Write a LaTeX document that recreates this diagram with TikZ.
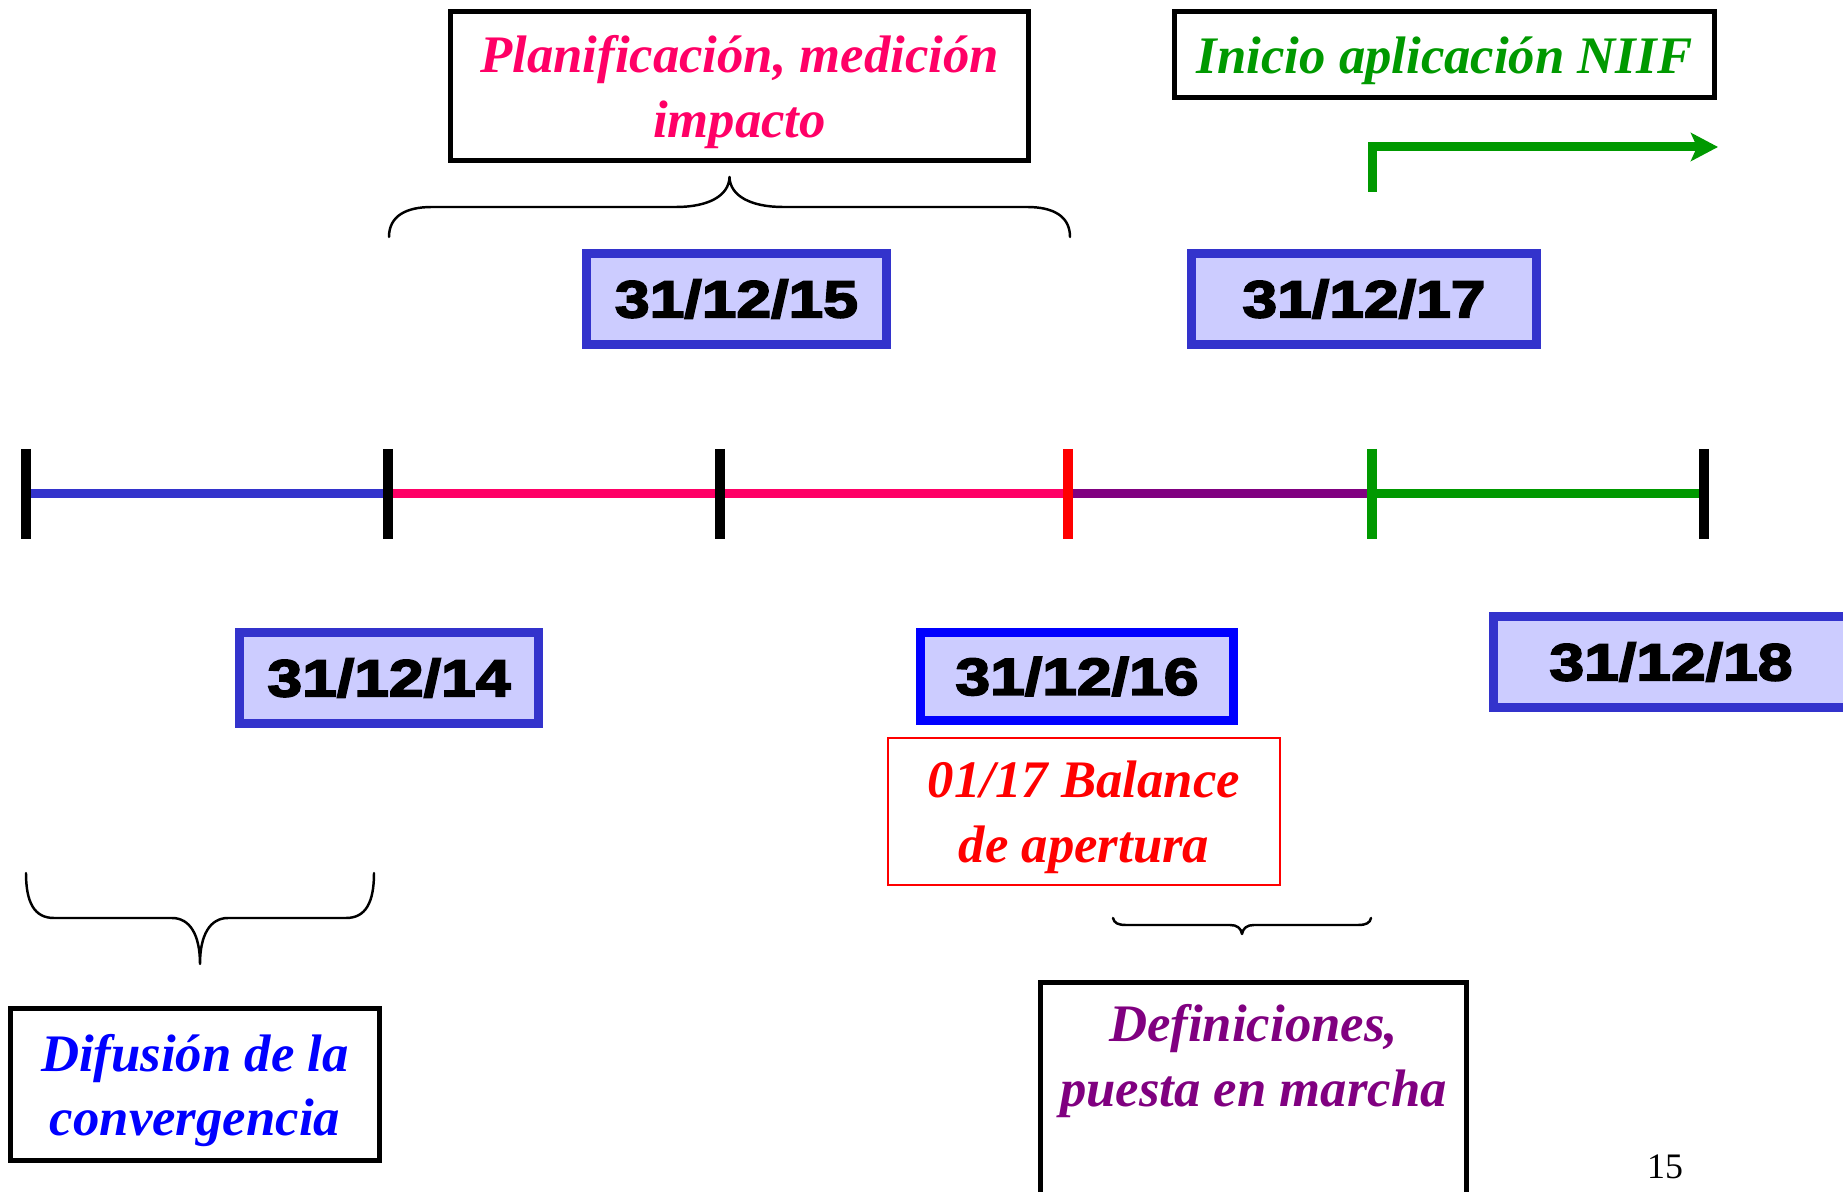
\documentclass[tikz,border=0pt]{standalone}
\usepackage{fontspec}
\setmainfont{Liberation Serif}
\newfontfamily\datefont{Liberation Sans}[BoldFeatures={FakeBold=3.5},FakeStretch=1.2]
\usetikzlibrary{arrows.meta}
\definecolor{datefill}{HTML}{CCCCFF}
\definecolor{dateborder}{HTML}{3333CC}
\definecolor{pinkc}{HTML}{FF0066}
\definecolor{greenc}{HTML}{009900}
\definecolor{purplec}{HTML}{800080}
\definecolor{bluec}{HTML}{0000FF}
\definecolor{redc}{HTML}{FF0000}
\tikzset{
  datebox/.style={draw=dateborder, fill=datefill, line width=0.09cm, inner sep=0pt,
    font=\datefont\bfseries\fontsize{14.8}{18}\selectfont},
  textbox/.style={draw=black, fill=white, line width=0.05cm, inner sep=0pt},
  boxtext/.style={inner sep=0pt, align=center, yshift=-0.06cm,
    font=\bfseries\itshape\fontsize{15}{18.35}\selectfont},
  seg/.style={line width=0.09cm},
  tickmark/.style={line width=0.1cm},
  bracepath/.style={line width=0.7pt, black, line join=round, line cap=round},
}
\begin{document}
\begin{tikzpicture}[x=0.01cm, y=-0.01cm]
\useasboundingbox (0,0) rectangle (1843,1192);
\clip (0,0) rectangle (1843,1192);

% timeline
\coordinate (t0) at (26,494);
\coordinate (t1) at (388,494);
\coordinate (t2) at (720,494);
\coordinate (t3) at (1068,494);
\coordinate (t4) at (1372,494);
\coordinate (t5) at (1704,494);
\draw[seg, dateborder] (t0) -- (t1);
\draw[seg, pinkc] (t1) -- (t3);
\draw[seg, purplec] (t3) -- (t4);
\draw[seg, greenc] (t4) -- (t5);
\draw[tickmark, black] (t0) ++(0,-45) -- ++(0,90);
\draw[tickmark, black] (t1) ++(0,-45) -- ++(0,90);
\draw[tickmark, black] (t2) ++(0,-45) -- ++(0,90);
\draw[tickmark, redc] (t3) ++(0,-45) -- ++(0,90);
\draw[tickmark, greenc] (t4) ++(0,-45) -- ++(0,90);
\draw[tickmark, black] (t5) ++(0,-45) -- ++(0,90);

% date boxes
\node[datebox, minimum width=3.0cm, minimum height=0.91cm] (d15) at (736.5,299) {31/12/15};
\node[datebox, minimum width=3.45cm, minimum height=0.91cm] (d17) at (1364,299) {31/12/17};
\node[datebox, minimum width=2.99cm, minimum height=0.91cm] (d14) at (389,678) {31/12/14};
\node[datebox, draw=bluec, minimum width=3.13cm, minimum height=0.88cm] (d16) at (1077,676.5) {31/12/16};
\node[datebox, minimum width=3.55cm, minimum height=0.91cm] (d18) at (1671,662) {31/12/18};

% text boxes
\node[textbox, minimum width=5.78cm, minimum height=1.49cm] (plan) at (739.5,86) {};
\node[boxtext, text=pinkc] (plant) at (plan.center) {Planificación, medición\\impacto};
\node[textbox, minimum width=5.40cm, minimum height=0.86cm] (inicio) at (1444.5,54.5) {};
\node[boxtext, text=greenc] (iniciot) at (inicio.center) {Inicio aplicación NIIF};
\node[textbox, minimum width=3.69cm, minimum height=1.52cm] (difus) at (195,1084.5) {};
\node[boxtext, text=bluec] (difust) at (difus.center) {Difusión de la\\convergencia};
\node[textbox, draw=redc, line width=0.02cm, minimum width=3.92cm, minimum height=1.47cm] (bal) at (1084,811.5) {};
\node[boxtext, text=redc] (balt) at (bal.center) {01/17 Balance\\de apertura};
\node[textbox, minimum width=4.26cm, minimum height=2.9cm, anchor=north] (def) at (1253.5,979.5) {};
\node[boxtext, yshift=0.06cm, text=purplec] (deft) at (1253.5,1061) {Definiciones,\\puesta en marcha};

% green arrow
\coordinate (ga) at (1372,192);
\coordinate (gb) at (1372,147);
\coordinate (gc) at (1718,147);
\draw[greenc, line width=0.09cm, line join=miter, -{Stealth[length=0.27cm,width=0.28cm,inset=0.06cm]}] (ga) -- (gb) -- (gc);

% braces
\draw[bracepath] (389,237) .. controls (389,216) and (406,207) .. (432,207) -- (676,207)
  .. controls (708,207) and (729,196) .. (729.5,177)
  .. controls (730,196) and (751,207) .. (783,207) -- (1027,207)
  .. controls (1053,207) and (1070,216) .. (1070,237);
\draw[bracepath] (26,873) .. controls (26,902) and (34,918) .. (54,918) -- (172,918)
  .. controls (190,918) and (200,935) .. (200,964)
  .. controls (200,935) and (210,918) .. (228,918) -- (346,918)
  .. controls (366,918) and (374,902) .. (374,873);
\draw[bracepath] (1113,918) .. controls (1114,923) and (1118,925) .. (1126,925) -- (1230,925)
  .. controls (1237,925) and (1241,928) .. (1242,934)
  .. controls (1243,928) and (1247,925) .. (1254,925) -- (1358,925)
  .. controls (1366,925) and (1370,923) .. (1371,918);

% page number
\node[font=\fontsize{10.2}{12}\selectfont, anchor=base, inner sep=0pt] (pnum) at (1665,1178) {15};
\end{tikzpicture}
\end{document}
